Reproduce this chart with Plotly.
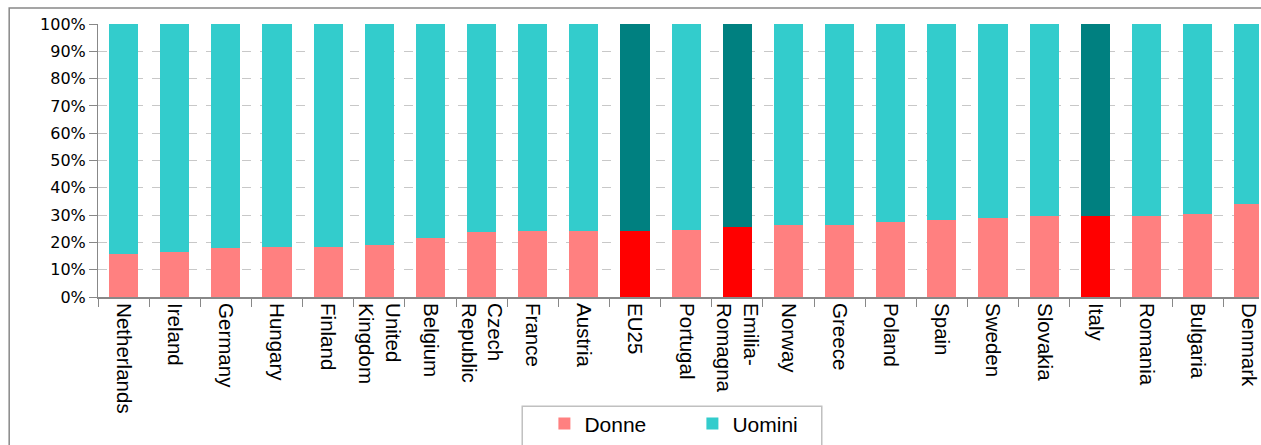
import plotly.graph_objects as go

# --- DATA ---
paesi = ["Netherlands", "Ireland", "Germany", "Hungary", "Finland", "United<br>Kingdom",
         "Belgium", "Czech<br>Republic", "France", "Austria", "EU25", "Portugal",
         "Emilia-<br>Romagna", "Norway", "Greece", "Poland", "Spain", "Sweden",
         "Slovakia", "Italy", "Romania", "Bulgaria", "Denmark"]
donne = [15.7, 16.4, 17.8, 18.2, 18.2, 18.9, 21.5, 23.8, 24.0, 24.0, 24.0, 24.7,
         25.5, 26.2, 26.2, 27.4, 28.1, 28.8, 29.6, 29.6, 29.8, 30.5, 33.9]
uomini = [84.3, 83.6, 82.2, 81.8, 81.8, 81.1, 78.5, 76.2, 76.0, 76.0, 76.0, 75.3,
          74.5, 73.8, 73.8, 72.6, 71.9, 71.2, 70.4, 70.4, 70.2, 69.5, 66.1]
evidenziati = ["EU25", "Emilia-<br>Romagna", "Italy"]

# colori: rosa/turchese normali, rosso/verde acqua per i confronti
col_donne = ["#FF0000" if p in evidenziati else "#FF8080" for p in paesi]
col_uomini = ["#008080" if p in evidenziati else "#33CCCC" for p in paesi]

fig = go.Figure()
fig.add_trace(go.Bar(x=paesi, y=donne, name="Donne", marker=dict(color=col_donne, line_width=0)))
fig.add_trace(go.Bar(x=paesi, y=uomini, name="Uomini", marker=dict(color=col_uomini, line_width=0)))

# bordo esterno del grafico (tagliato a destra e in basso)
fig.add_shape(type="rect", xref="paper", yref="paper", x0=-0.0765, x1=1.05, y0=-0.7, y1=1 + 16 / 275,
              line=dict(color="#888888", width=1.5), layer="below")
# riquadro della legenda
fig.add_shape(type="rect", xref="paper", yref="paper", x0=0.3654, x1=0.6234, y0=-0.7, y1=-0.4,
              line=dict(color="#C0C0C0", width=1.5), layer="below")

fig.update_layout(
    width=1261, height=445,
    margin=dict(l=98, r=0, t=24, b=146),
    barmode="stack", bargap=0.43,
    plot_bgcolor="white", paper_bgcolor="white",
    font=dict(family="DejaVu Sans", size=16, color="black"),
    xaxis=dict(range=[-0.5, 22.2], tickangle=90, tickson="boundaries", ticks="outside",
               ticklen=8, tickcolor="#888888", showline=True, linecolor="#888888", linewidth=2,
               showgrid=False, tickfont=dict(family="Liberation Sans", size=20.5)),
    yaxis=dict(range=[0, 100], dtick=10, ticksuffix="%", ticks="outside", ticklen=8,
               tickcolor="#888888", showline=True, linecolor="#888888", linewidth=1,
               showgrid=True, gridcolor="#C8C8C8", griddash="dash", gridwidth=1, zeroline=False),
    legend=dict(orientation="h", x=0.3845, xanchor="left", y=-0.39, yanchor="top",
                borderwidth=0, bgcolor="rgba(0,0,0,0)", font=dict(family="Liberation Sans", size=21),
                entrywidth=103, entrywidthmode="pixels", traceorder="normal"),
    showlegend=True,
)
# pagina senza margini, cosi' il grafico occupa tutta la finestra
fig.write_html("out.html", config={"displayModeBar": False},
               post_script="document.body.style.margin='0';document.body.style.overflow='hidden';")
